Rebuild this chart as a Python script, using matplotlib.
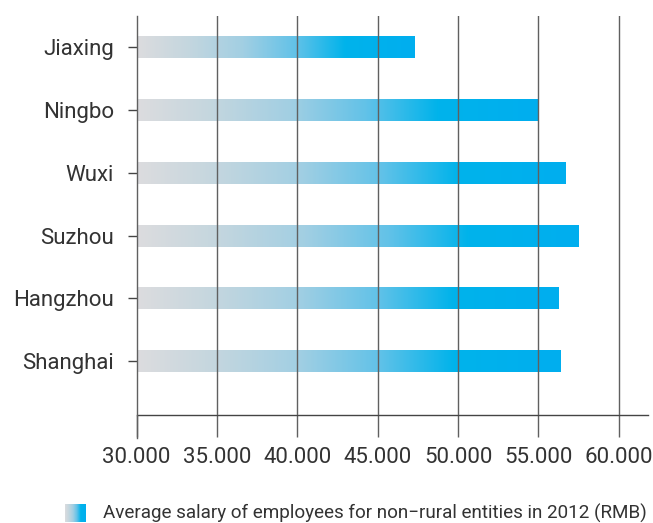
import numpy as np
import matplotlib
matplotlib.use("Agg")
import matplotlib.pyplot as plt
from matplotlib.colors import LinearSegmentedColormap

cities = ["Shanghai", "Hangzhou", "Suzhou", "Wuxi", "Ningbo", "Jiaxing"]
salary = [56330, 56260, 57450, 56700, 54980, 47240]
xticks = [30000, 35000, 40000, 45000, 50000, 55000, 60000]
xtick_labels = ["30.000", "35.000", "40.000", "45.000", "50.000", "55.000", "60.000"]
legend_label = "Average salary of employees for non\u2212rural entities in 2012 (RMB)"

plt.rcParams["font.family"] = ["Roboto", "DejaVu Sans"]

text_col = "#333333"
grid_col = "#606060"

# gradient grey -> cyan, per bar
cmap = LinearSegmentedColormap.from_list(
    "bar", [(0.0, "#dcdcde"), (0.19, "#c3d6df"), (0.38, "#a2cfe3"),
            (0.57, "#62c2e8"), (0.75, "#00b3eb"), (1.0, "#00aeef")]
)
grad = np.linspace(0, 1, 256).reshape(1, -1)

fig = plt.figure(figsize=(6.53, 5.23), dpi=100)
ax = fig.add_axes([0.2093, 0.2059, 0.9919 - 0.2093, 0.9694 - 0.2059])

bar_h = 0.35
for i, v in enumerate(salary):
    ax.imshow(grad, cmap=cmap, aspect="auto", interpolation="bilinear",
              extent=[xticks[0], v, i - bar_h / 2, i + bar_h / 2], zorder=1)

ax.set_xlim(30000, 61806)
ax.set_ylim(-0.866, 5.50)

# Vertical gridlines over the bars
for xt in xticks[1:]:
    ax.axvline(xt, color=grid_col, lw=1.0, zorder=3)

ax.set_xticks(xticks)
ax.set_xticklabels(xtick_labels)
ax.set_yticks(range(len(cities)))
ax.set_yticklabels(cities)

for s in ["top", "right"]:
    ax.spines[s].set_visible(False)
ax.spines["left"].set_color(grid_col)
ax.spines["left"].set_linewidth(1.0)
ax.spines["bottom"].set_color("#444444")
ax.spines["bottom"].set_linewidth(1.0)
ax.spines["left"].set_zorder(3)

ax.tick_params(axis="x", length=16, width=1.0, color=grid_col, pad=7,
               labelsize=16, labelcolor=text_col)
ax.tick_params(axis="y", length=6.5, width=1.0, color="#444444", pad=10,
               labelsize=16, labelcolor=text_col)
ax.spines["left"].set_bounds(-1.22, 5.50)
ax.spines["left"].set_clip_on(False)

# Legend: gradient swatch + label
lax = fig.add_axes([65 / 653, 1 - 522 / 523, 21 / 653, 18 / 523])
lax.imshow(grad, cmap=cmap, aspect="auto", interpolation="bilinear")
lax.axis("off")
fig.text(103 / 653, 1 - 513 / 523, legend_label, fontsize=13.6, color=text_col,
         va="center", ha="left")

fig.savefig("out.png", dpi=100)
